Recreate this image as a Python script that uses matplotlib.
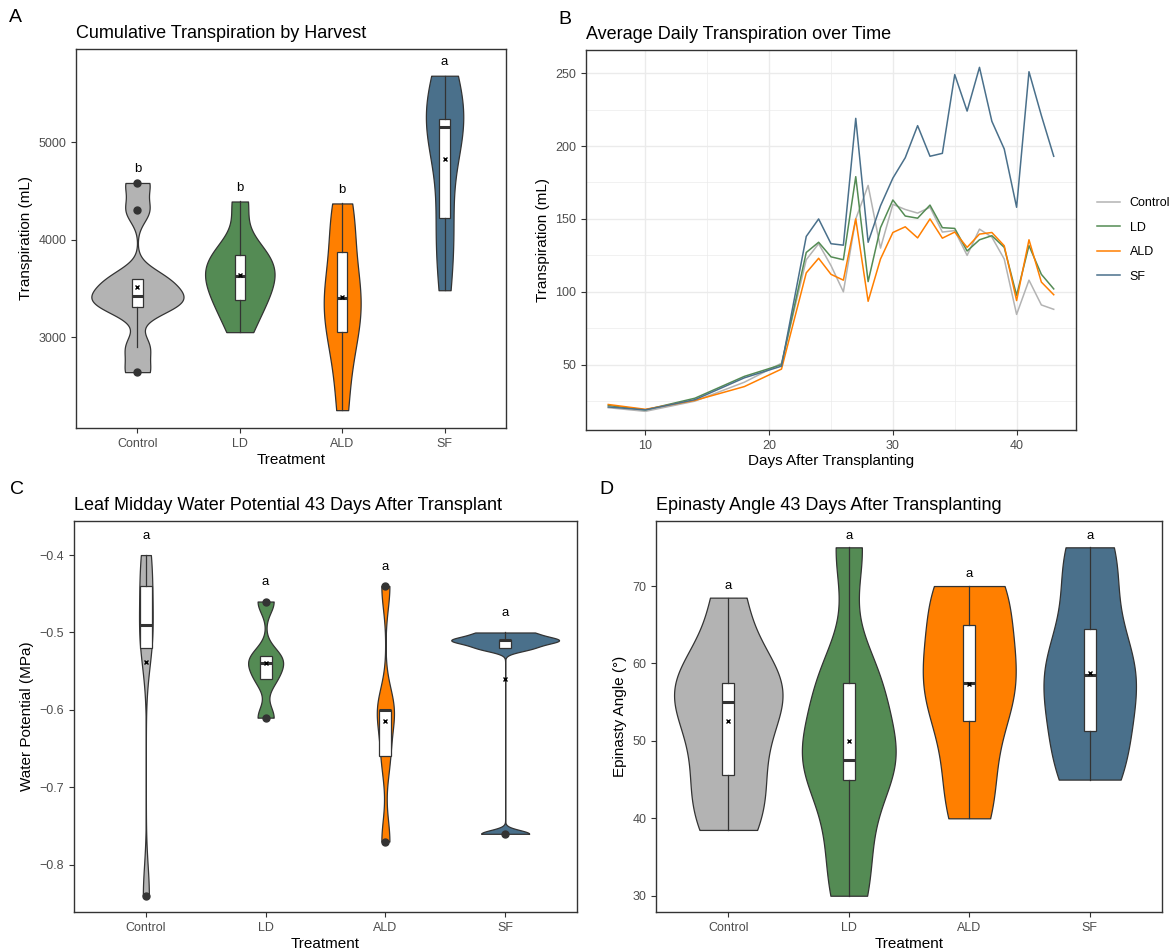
import numpy as np
import matplotlib
matplotlib.use("Agg")
import matplotlib.pyplot as plt
from matplotlib import mlab

plt.rcParams['font.family'] = ['Liberation Sans', 'DejaVu Sans']

## tratamientos y colores
tratamientos = ['Control', 'LD', 'ALD', 'SF']
colores = ['#B3B3B3', '#548B54', '#FF7F00', '#4A708B']

## A - transpiracion acumulada (mL)
trans_control = [2640, 2900, 3300, 3340, 3400, 3440, 3590, 3600, 4300, 4580]
trans_ld = [3050, 3300, 3380, 3550, 3630, 3700, 3840, 3900, 4390]
trans_ald = [2250, 2800, 3050, 3300, 3400, 3500, 3870, 4200, 4370]
trans_sf = [3480, 4000, 4220, 5000, 5150, 5200, 5240, 5500, 5680]
letras_a = ['b', 'b', 'b', 'a']

## B - transpiracion diaria promedio (mL)
dias = [7, 10, 14, 18, 21, 23, 24, 25, 26, 27, 28, 29, 30, 31, 32, 33, 34,
        35, 36, 37, 38, 39, 40, 41, 42, 43]
diaria_control = [20.5, 18, 25, 38, 51, 122, 133, 118, 100, 150, 173, 130, 160,
                  156.5, 154, 158, 141, 142, 125, 143, 137.5, 122.5, 84.5, 108, 91, 88]
diaria_ld = [22, 19, 27, 42, 50, 127, 134, 124, 122, 179, 107, 144, 163,
             152, 150.5, 159.5, 144, 143.5, 128, 135.7, 138.5, 130.5, 97.6, 131.7, 112, 102]
diaria_ald = [22.7, 19.4, 25.5, 35, 47, 113, 123, 112, 108, 150, 93.5, 122.5, 140.7,
              144.6, 137, 150, 136.8, 141, 130.5, 139.6, 140.7, 131.6, 94, 135.7, 106.7, 98]
diaria_sf = [21, 19, 26, 41, 49, 138, 150, 133, 132, 219, 134, 159, 178,
             192, 214, 193, 195, 249, 224, 254, 217, 198, 158, 251, 221, 193]

## C - potencial hidrico (MPa)
wp_control = [-0.84, -0.52, -0.49, -0.44, -0.40]
wp_ld = [-0.61, -0.56, -0.54, -0.53, -0.46]
wp_ald = [-0.77, -0.66, -0.60, -0.60, -0.44]
wp_sf = [-0.76, -0.52, -0.51, -0.51, -0.50]
letras_c = ['a', 'a', 'a', 'a']

## D - angulo de epinastia (grados)
ang_control = [38.5, 42, 46.8, 52.5, 57.5, 57.5, 57.5, 68.5]
ang_ld = [30, 37.5, 47.5, 47.5, 47.5, 57.5, 57.5, 75]
ang_ald = [40, 46, 54.8, 55, 60, 63.3, 70, 70]
ang_sf = [45, 47, 52.7, 57.5, 59.5, 62, 71.6, 75]
letras_d = ['a', 'a', 'a', 'a']

W, H = 1171, 949
OSCURO = '#333333'
GRIS = '#4D4D4D'


def nrd0(kde):
    # ancho de banda de R (bw.nrd0) como factor para GaussianKDE
    x = np.asarray(kde.dataset).ravel()
    sd = np.std(x, ddof=1)
    q75, q25 = np.percentile(x, [75, 25])
    lo = min(sd, (q75 - q25) / 1.34)
    if lo <= 0:
        lo = sd
    return 0.9 * lo * len(x) ** -0.2 / sd


def caja(l, t, r, b):
    return [l / W, 1 - b / H, (r - l) / W, (b - t) / H]


def estilo(ax):
    for s in ax.spines.values():
        s.set_color(OSCURO)
        s.set_linewidth(1.0)
    ax.tick_params(length=3.5, width=0.8, color=OSCURO, labelcolor=GRIS,
                   labelsize=9)


def violines(ax, datos, letras, ylim, pad, titulo, ylab):
    # ancho segun area (como scale="area")
    picos = []
    for d in datos:
        kde = mlab.GaussianKDE(d, bw_method=nrd0)
        xs = np.linspace(min(d), max(d), 512)
        picos.append(kde.evaluate(xs).max())
    anchos = [0.9 * p / max(picos) for p in picos]
    pos = list(range(len(datos)))
    partes = ax.violinplot(datos, positions=pos, widths=anchos, showextrema=False,
                           points=400, bw_method=nrd0)
    for b, c in zip(partes['bodies'], colores):
        b.set_facecolor(c)
        b.set_edgecolor(OSCURO)
        b.set_linewidth(0.9)
        b.set_alpha(1)
    ax.boxplot(datos, positions=pos, widths=0.1, patch_artist=True,
               showcaps=False, showmeans=True,
               boxprops=dict(facecolor='white', edgecolor=OSCURO, linewidth=0.9),
               medianprops=dict(color=OSCURO, linewidth=2.2),
               whiskerprops=dict(color=OSCURO, linewidth=0.9),
               meanprops=dict(marker='x', markeredgecolor='black', markersize=3.5,
                              markeredgewidth=1),
               flierprops=dict(marker='o', markerfacecolor=OSCURO,
                               markeredgecolor=OSCURO, markersize=5))
    for i, (d, l) in enumerate(zip(datos, letras)):
        ax.text(i, max(d) + pad, l, ha='center', va='center', fontsize=9.5,
                color='black')
    ax.set_xlim(-0.6, len(datos) - 0.4)
    ax.set_ylim(*ylim)
    ax.set_xticks(pos)
    ax.set_xticklabels(tratamientos)
    ax.set_title(titulo, loc='left', fontsize=13, pad=8)
    ax.set_ylabel(ylab, fontsize=11)
    ax.set_xlabel('Treatment', fontsize=11, labelpad=2)
    estilo(ax)


fig = plt.figure(figsize=(W / 100, H / 100), dpi=100)

## A
axA = fig.add_axes(caja(76, 49, 506, 428))
violines(axA, [trans_control, trans_ld, trans_ald, trans_sf], letras_a,
         (2067, 5954), 140, 'Cumulative Transpiration by Harvest',
         'Transpiration (mL)')
axA.set_yticks([3000, 4000, 5000])

## B
axB = fig.add_axes(caja(586, 50, 1076, 430))
for serie, nombre, c in zip([diaria_control, diaria_ld, diaria_ald, diaria_sf],
                            tratamientos, colores):
    axB.plot(dias, serie, color=c, lw=1.1, label=nombre)
axB.set_xlim(5.2, 44.8)
axB.set_ylim(5.2, 265.9)
axB.set_xticks([10, 20, 30, 40])
axB.set_yticks([50, 100, 150, 200, 250])
axB.set_xticks([15, 25, 35], minor=True)
axB.set_yticks([25, 75, 125, 175, 225], minor=True)
axB.grid(True, which='major', color='#EBEBEB', lw=1.0)
axB.grid(True, which='minor', color='#EBEBEB', lw=0.5)
axB.tick_params(which='minor', length=0)
axB.set_axisbelow(True)
estilo(axB)
axB.set_title('Average Daily Transpiration over Time', loc='left', fontsize=13, pad=8)
axB.set_xlabel('Days After Transplanting', fontsize=11, labelpad=2)
axB.set_ylabel('Transpiration (mL)', fontsize=11)
axB.legend(loc='center left', bbox_to_anchor=(1.02, 0.5), frameon=False,
           fontsize=9, handlelength=1.8, labelspacing=1.0)

## C
axC = fig.add_axes(caja(74, 521, 577, 912))
violines(axC, [wp_control, wp_ld, wp_ald, wp_sf], letras_c,
         (-0.861, -0.356), 0.025, 'Leaf Midday Water Potential 43 Days After Transplant',
         'Water Potential (MPa)')
axC.set_yticks([-0.4, -0.5, -0.6, -0.7, -0.8])
axC.set_yticklabels(['\u22120.4', '\u22120.5', '\u22120.6', '\u22120.7', '\u22120.8'])

## D
axD = fig.add_axes(caja(656, 521, 1162, 912))
violines(axD, [ang_control, ang_ld, ang_ald, ang_sf], letras_d,
         (27.9, 78.4), 1.5, 'Epinasty Angle 43 Days After Transplanting',
         'Epinasty Angle (\u00b0)')
axD.set_yticks([30, 40, 50, 60, 70])

## etiquetas de panel
for letra, x, y in [('A', 15, 17), ('B', 565, 20), ('C', 17, 490), ('D', 606, 490)]:
    fig.text(x / W, 1 - y / H, letra, fontsize=14, ha='center', va='center')

fig.savefig('out.png', dpi=100)
